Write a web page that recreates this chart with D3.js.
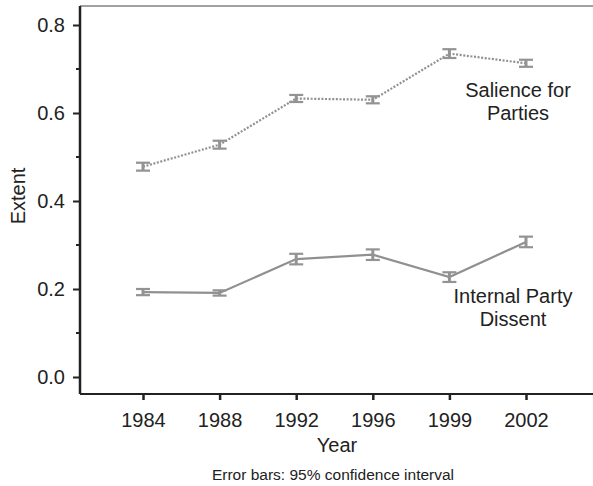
<!DOCTYPE html>
<html>
<head>
<meta charset="utf-8">
<script src="https://cdn.jsdelivr.net/npm/d3@7"></script>
<style>
  body { margin: 0; background: #fff; }
  svg text { font-family: "Liberation Sans", Arial, sans-serif; fill: #222; }
</style>
</head>
<body>
<div id="chart"></div>
<script>
const years = ["1984", "1988", "1992", "1996", "1999", "2002"];
const salience = [0.478, 0.528, 0.633, 0.630, 0.735, 0.713];
const salienceErr = [0.009, 0.009, 0.008, 0.008, 0.010, 0.008];
const dissent = [0.193, 0.191, 0.268, 0.278, 0.227, 0.307];
const dissentErr = [0.007, 0.006, 0.012, 0.012, 0.011, 0.012];
const yTicks = [0.0, 0.2, 0.4, 0.6, 0.8];
const yMinorTicks = [0.1, 0.3, 0.5, 0.7];

const width = 593, height = 486;
const plotLeft = 80, plotTop = 6, plotBottom = 394, plotRight = 593;

const svg = d3.select("#chart").append("svg")
    .attr("width", width)
    .attr("height", height);

const xScale = d3.scalePoint().domain(years).range([143, 526]);
const yScale = d3.scaleLinear().domain([0, 0.8]).range([377, 25]);

// frame
svg.append("line")
    .attr("x1", plotLeft).attr("x2", plotRight).attr("y1", plotTop).attr("y2", plotTop)
    .attr("stroke", "#444").attr("stroke-width", 1.2);

// x axis
const xAxis = d3.axisBottom(xScale).tickSize(6).tickPadding(13);
const gx = svg.append("g")
    .attr("transform", `translate(0,${plotBottom})`)
    .call(xAxis);
gx.select(".domain").attr("d", `M${plotLeft},0H${plotRight}`).attr("stroke", "#222").attr("stroke-width", 2.2);
gx.selectAll(".tick line").attr("stroke", "#222").attr("stroke-width", 2.5);
gx.selectAll(".tick text").style("font-size", "20px").attr("fill", "#222");

// y axis
const yAxis = d3.axisLeft(yScale).tickValues(yTicks).tickSize(7).tickPadding(8).tickFormat(d3.format(".1f"));
const gy = svg.append("g")
    .attr("transform", `translate(${plotLeft},0)`)
    .call(yAxis);
gy.select(".domain").attr("d", `M0,${plotTop}V${plotBottom}`).attr("stroke", "#222").attr("stroke-width", 2.5);
gy.selectAll(".tick line").attr("stroke", "#222").attr("stroke-width", 2);
gy.selectAll(".tick text").style("font-size", "20px").attr("fill", "#222");

// minor ticks
svg.append("g").selectAll("line")
    .data(yMinorTicks)
    .join("line")
    .attr("x1", plotLeft - 4).attr("x2", plotLeft)
    .attr("y1", d => yScale(d)).attr("y2", d => yScale(d))
    .attr("stroke", "#222").attr("stroke-width", 2);

// series
const drawSeries = (values, errs, dashed) => {
    const pts = values.map((v, i) => ({ year: years[i], value: v, err: errs[i] }));
    const line = d3.line().x(d => xScale(d.year)).y(d => yScale(d.value));
    svg.append("path")
        .attr("d", line(pts))
        .attr("fill", "none")
        .attr("stroke", "#909090")
        .attr("stroke-width", 2.2)
        .attr("stroke-dasharray", dashed ? "2,1.6" : null);

    const g = svg.append("g").selectAll("g")
        .data(pts)
        .join("g")
        .attr("stroke", "#939393");
    g.append("line")
        .attr("x1", d => xScale(d.year)).attr("x2", d => xScale(d.year))
        .attr("y1", d => yScale(d.value - d.err)).attr("y2", d => yScale(d.value + d.err))
        .attr("stroke-width", 3);
    g.append("line")
        .attr("x1", d => xScale(d.year) - 7).attr("x2", d => xScale(d.year) + 7)
        .attr("y1", d => yScale(d.value + d.err)).attr("y2", d => yScale(d.value + d.err))
        .attr("stroke-width", 2.2);
    g.append("line")
        .attr("x1", d => xScale(d.year) - 7).attr("x2", d => xScale(d.year) + 7)
        .attr("y1", d => yScale(d.value - d.err)).attr("y2", d => yScale(d.value - d.err))
        .attr("stroke-width", 2.2);
};

drawSeries(salience, salienceErr, true);
drawSeries(dissent, dissentErr, false);

// series labels
const label = (lines, x, y) => {
    svg.append("text")
        .attr("x", x).attr("y", y)
        .attr("text-anchor", "middle")
        .style("font-size", "20px")
        .selectAll("tspan")
        .data(lines)
        .join("tspan")
        .attr("x", x)
        .attr("dy", (d, i) => i === 0 ? 0 : 23)
        .text(d => d);
};
label(["Salience for", "Parties"], 518, 97);
label(["Internal Party", "Dissent"], 513, 303);

// axis titles
svg.append("text")
    .attr("x", 337).attr("y", 452)
    .attr("text-anchor", "middle")
    .style("font-size", "20px")
    .text("Year");

svg.append("text")
    .attr("transform", "translate(25,196) rotate(-90)")
    .attr("text-anchor", "middle")
    .style("font-size", "20px")
    .text("Extent");

svg.append("text")
    .attr("x", 333).attr("y", 480)
    .attr("text-anchor", "middle")
    .style("font-size", "15.5px")
    .text("Error bars: 95% confidence interval");
</script>
</body>
</html>
